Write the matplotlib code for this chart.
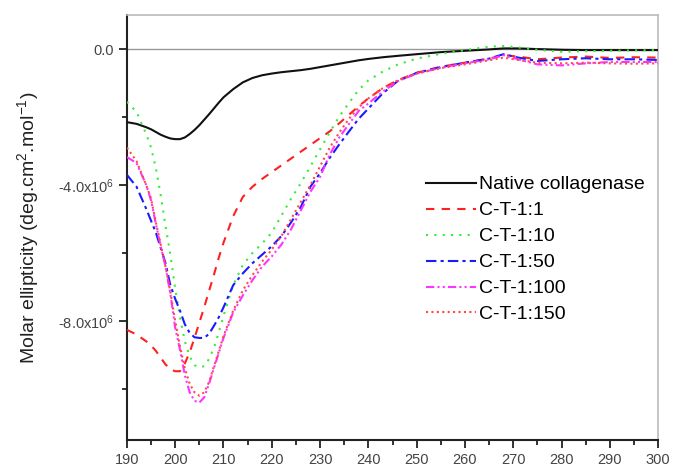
import numpy as np
import matplotlib
matplotlib.use("Agg")
import matplotlib.pyplot as plt
from matplotlib.ticker import MultipleLocator, FixedLocator, FuncFormatter

plt.rcParams['font.family'] = ['Liberation Sans', 'DejaVu Sans']
plt.rcParams['mathtext.fontset'] = 'custom'
plt.rcParams['mathtext.rm'] = 'Liberation Sans'
plt.rcParams['mathtext.it'] = 'Liberation Sans'
plt.rcParams['mathtext.bf'] = 'Liberation Sans'

# Wavelength (nm)
wl = [190, 192, 194, 195, 196, 197, 198, 199, 200, 201, 202, 203, 204, 205, 206, 207, 208, 209,
      210, 212, 214, 216, 218, 220, 222, 224, 226, 228, 230, 232, 234, 236, 238, 240, 243, 246,
      250, 255, 260, 265, 268, 271, 275, 280, 285, 290, 295, 300]

# Molar ellipticity (x10^6 deg.cm2.mol-1)
native = [-2.15, -2.2, -2.3, -2.36, -2.44, -2.52, -2.58, -2.63, -2.65, -2.65, -2.6, -2.5, -2.38, -2.24,
          -2.08, -1.92, -1.75, -1.58, -1.42, -1.18, -0.98, -0.85, -0.77, -0.72, -0.68, -0.65, -0.62,
          -0.58, -0.53, -0.48, -0.43, -0.38, -0.33, -0.29, -0.24, -0.2, -0.15, -0.09, -0.05, -0.01,
          0.02, 0.02, 0.0, -0.02, -0.03, -0.03, -0.03, -0.03]
ct_1 = [-8.26, -8.4, -8.6, -8.72, -8.88, -9.08, -9.28, -9.42, -9.48, -9.48, -9.25, -8.92, -8.5, -8.05,
        -7.6, -7.12, -6.65, -6.15, -5.7, -4.92, -4.35, -4.05, -3.82, -3.62, -3.42, -3.22, -3.02,
        -2.82, -2.62, -2.42, -2.18, -1.93, -1.68, -1.45, -1.15, -0.92, -0.7, -0.52, -0.4, -0.28,
        -0.18, -0.22, -0.3, -0.25, -0.22, -0.26, -0.24, -0.25]
ct_10 = [-1.55, -1.85, -2.5, -2.9, -3.5, -4.3, -5.2, -6.05, -7.05, -7.9, -8.6, -9.05, -9.3, -9.37,
         -9.33, -9.12, -8.8, -8.35, -7.85, -6.95, -6.35, -6.0, -5.72, -5.4, -4.9, -4.4, -3.95,
         -3.45, -2.95, -2.45, -1.98, -1.58, -1.2, -0.92, -0.66, -0.46, -0.28, -0.14, -0.03, 0.07,
         0.09, 0.05, -0.02, -0.08, -0.06, -0.05, -0.04, -0.03]
ct_50 = [-3.7, -4.05, -4.7, -5.05, -5.4, -5.85, -6.3, -6.95, -7.35, -7.7, -8.1, -8.35, -8.48, -8.5,
         -8.5, -8.38, -8.15, -7.9, -7.6, -6.95, -6.6, -6.3, -6.05, -5.8, -5.5, -5.1, -4.65,
         -4.05, -3.65, -3.2, -2.8, -2.42, -2.05, -1.75, -1.3, -0.95, -0.7, -0.53, -0.4, -0.28,
         -0.15, -0.25, -0.35, -0.3, -0.27, -0.3, -0.3, -0.32]
ct_100 = [-3.18, -3.35, -4.0, -4.45, -5.15, -5.8, -6.4, -7.2, -8.2, -8.85, -9.6, -10.1, -10.35, -10.4,
          -10.25, -9.85, -9.4, -8.95, -8.5, -7.75, -7.25, -6.8, -6.4, -6.1, -5.75, -5.3, -4.75,
          -4.2, -3.76, -3.1, -2.6, -2.2, -1.82, -1.6, -1.25, -0.95, -0.72, -0.55, -0.42, -0.3,
          -0.18, -0.3, -0.45, -0.48, -0.42, -0.38, -0.38, -0.38]
ct_150 = [-2.9, -3.3, -4.0, -4.4, -5.1, -5.75, -6.4, -7.15, -8.0, -8.75, -9.4, -9.85, -10.1, -10.2,
          -10.1, -9.8, -9.35, -8.9, -8.45, -7.7, -7.1, -6.65, -6.25, -5.9, -5.5, -5.0, -4.5,
          -4.0, -3.45, -2.9, -2.45, -2.05, -1.72, -1.45, -1.15, -0.93, -0.72, -0.56, -0.45, -0.33,
          -0.25, -0.32, -0.4, -0.42, -0.4, -0.42, -0.43, -0.42]

labels = ['Native collagenase', 'C-T-1:1', 'C-T-1:10', 'C-T-1:50', 'C-T-1:100', 'C-T-1:150']
series = [native, ct_1, ct_10, ct_50, ct_100, ct_150]
colors = ['#111111', '#ff2020', '#33ee33', '#1a1aff', '#ff33ff', '#ff4a4a']
styles = ['-', (0, (4, 3.5)), (0, (1, 3)), (0, (5, 2, 1.5, 2)),
          (0, (4, 1.5, 1, 1.5, 1, 1.5)), (0, (1, 1.6))]

fig = plt.figure(figsize=(6.75, 4.72), dpi=100)
ax = fig.add_axes([0.188, 0.068, 0.787, 0.9])

ax.axhline(0, color='#999999', lw=1, zorder=1)

for y, lab, c, ls in zip(series, labels, colors, styles):
    ax.plot(wl, np.array(y) * 1e6, color=c, ls=ls, lw=1.5, label=lab, zorder=3)

ax.set_xlim(190, 300)
ax.set_ylim(-11.5e6, 1.0e6)

ax.xaxis.set_major_locator(MultipleLocator(10))
ax.xaxis.set_minor_locator(MultipleLocator(5))
ax.yaxis.set_major_locator(FixedLocator([0, -4e6, -8e6]))
ax.yaxis.set_minor_locator(FixedLocator([-2e6, -6e6, -10e6]))


def yfmt(v, pos):
    if v == 0:
        return '0.0'
    return r'%.1fx10$^6$' % (v / 1e6)


ax.yaxis.set_major_formatter(FuncFormatter(yfmt))

ax.tick_params(which='major', direction='out', length=6, width=1.3, labelsize=10.5,
               labelcolor='#444444', colors='#222222')
ax.tick_params(which='minor', direction='out', length=3.5, width=1.3, colors='#222222')
ax.tick_params(axis='y', which='both', right=False)
ax.tick_params(axis='x', which='both', top=False)

for s in ['left', 'bottom']:
    ax.spines[s].set_color('#222222')
    ax.spines[s].set_linewidth(1.5)
for s in ['top', 'right']:
    ax.spines[s].set_color('#bbbbbb')
    ax.spines[s].set_linewidth(1.2)

ax.set_ylabel(r'Molar ellipticity (deg.cm$^2$.mol$^{-1}$)', fontsize=14, color='#222222',
              labelpad=12)

ax.legend(loc='upper left', bbox_to_anchor=(0.548, 0.64), frameon=False, fontsize=14,
          handlelength=2.6, handletextpad=0.15, labelspacing=0.43, borderaxespad=0)

fig.savefig('out.png', dpi=100, facecolor='white')
